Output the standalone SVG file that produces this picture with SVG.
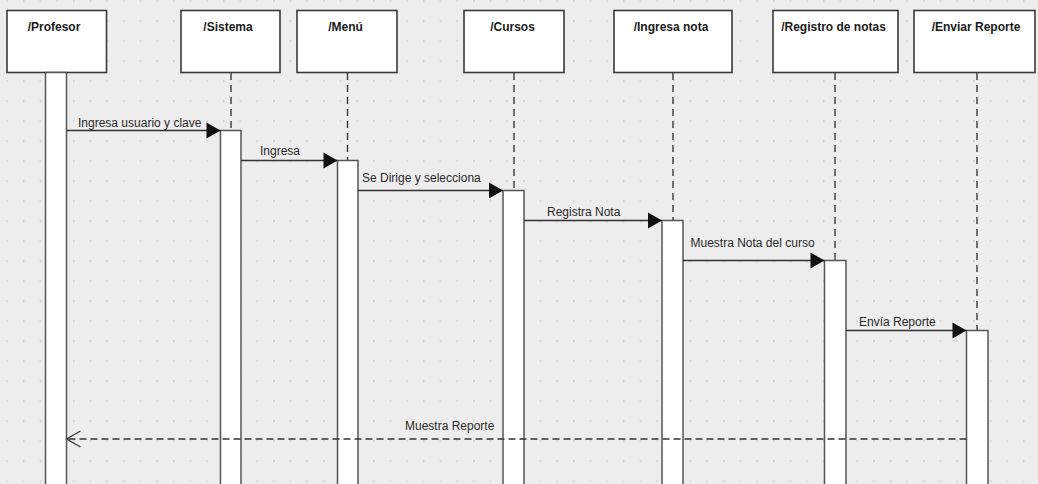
<svg xmlns="http://www.w3.org/2000/svg" width="1038" height="484" viewBox="0 0 1038 484">
  <defs>
    <pattern id="dots" patternUnits="userSpaceOnUse" x="6.3" y="0.3" width="16.667" height="20">
      <rect x="0" y="0" width="1.5" height="1.5" fill="#c9c9c9"/>
    </pattern>
    <marker id="filled" markerUnits="userSpaceOnUse" markerWidth="14" markerHeight="16" refX="14" refY="8" orient="auto" overflow="visible">
      <path d="M0,0 L14,8 L0,16 Z" fill="#111" stroke="none"/>
    </marker>
    <marker id="open" markerUnits="userSpaceOnUse" markerWidth="14" markerHeight="18" refX="14" refY="9" orient="auto" overflow="visible">
      <path d="M0,1 L14,9 L0,17" fill="none" stroke="#333" stroke-width="1.2"/>
    </marker>
    <style>
      .head { fill: #ffffff; stroke: #3a3a3a; stroke-width: 1.6; }
      .htext { font-family: "Liberation Sans", Arial, sans-serif; font-size: 12px; font-weight: bold; fill: #1a1a1a; text-anchor: middle; }
      .life { stroke: #3a3a3a; stroke-width: 1.4; stroke-dasharray: 7 5; fill: none; }
      .act { fill: #ffffff; stroke: #555555; stroke-width: 1.5; }
      .msg { stroke: #333333; stroke-width: 1.3; fill: none; marker-end: url(#filled); }
      .ret { stroke: #333333; stroke-width: 1.3; fill: none; stroke-dasharray: 7 4; marker-end: url(#open); }
      .lbl { font-family: "Liberation Sans", Arial, sans-serif; font-size: 12px; fill: #2a2a2a; }
    </style>
  </defs>

  <rect x="0" y="0" width="1038" height="484" fill="#ededed"/>
  <rect x="0" y="0" width="1038" height="484" fill="url(#dots)"/>

  <g id="profesor">
    <rect class="head" x="7" y="10.5" width="99.5" height="62"/>
    <text class="htext" x="54" y="31">/Profesor</text>
    <rect class="act" x="45.5" y="72.5" width="21" height="420"/>
  </g>

  <g id="sistema">
    <rect class="head" x="181" y="10.5" width="99" height="62"/>
    <text class="htext" x="228" y="31">/Sistema</text>
    <line class="life" x1="231" y1="73" x2="231" y2="130"/>
    <rect class="act" x="220.5" y="130.5" width="20.5" height="360"/>
  </g>

  <g id="menu">
    <rect class="head" x="297" y="10.5" width="100" height="62"/>
    <text class="htext" x="345.5" y="31">/Menú</text>
    <line class="life" x1="347.5" y1="73" x2="347.5" y2="160"/>
    <rect class="act" x="337.5" y="160.5" width="20.5" height="330"/>
  </g>

  <g id="cursos">
    <rect class="head" x="464" y="10.5" width="100" height="62"/>
    <text class="htext" x="512.5" y="31">/Cursos</text>
    <line class="life" x1="514" y1="73" x2="514" y2="190"/>
    <rect class="act" x="503" y="190.5" width="21" height="300"/>
  </g>

  <g id="ingresa-nota">
    <rect class="head" x="614" y="10.5" width="118" height="62"/>
    <text class="htext" x="671" y="31">/Ingresa nota</text>
    <line class="life" x1="673" y1="73" x2="673" y2="220"/>
    <rect class="act" x="662" y="220.5" width="21" height="270"/>
  </g>

  <g id="registro-notas">
    <rect class="head" x="773" y="10.5" width="125" height="62"/>
    <text class="htext" x="833.5" y="31">/Registro de notas</text>
    <line class="life" x1="835" y1="73" x2="835" y2="260"/>
    <rect class="act" x="824.5" y="260.5" width="21.5" height="230"/>
  </g>

  <g id="enviar-reporte">
    <rect class="head" x="914" y="10.5" width="121" height="62"/>
    <text class="htext" x="976" y="31">/Enviar Reporte</text>
    <line class="life" x1="977" y1="73" x2="977" y2="330"/>
    <rect class="act" x="966.5" y="330.5" width="21.5" height="160"/>
  </g>

  <g id="connectors">
    <line class="msg" x1="66.5" y1="130.5" x2="220.5" y2="130.5"/>
    <text class="lbl" x="78" y="127">Ingresa usuario y clave</text>

    <line class="msg" x1="241" y1="160.5" x2="337.5" y2="160.5"/>
    <text class="lbl" x="260" y="155">Ingresa</text>

    <line class="msg" x1="358" y1="190.5" x2="503" y2="190.5"/>
    <text class="lbl" x="362" y="182">Se Dirige y selecciona</text>

    <line class="msg" x1="524" y1="220.5" x2="662" y2="220.5"/>
    <text class="lbl" x="547" y="216">Registra Nota</text>

    <line class="msg" x1="683" y1="260.5" x2="824.5" y2="260.5"/>
    <text class="lbl" x="690.5" y="247">Muestra Nota del curso</text>

    <line class="msg" x1="846" y1="330.5" x2="966.5" y2="330.5"/>
    <text class="lbl" x="859" y="326">Envía Reporte</text>

    <line class="ret" x1="966.5" y1="439" x2="66.5" y2="439"/>
    <text class="lbl" x="405" y="430">Muestra Reporte</text>
  </g>
</svg>
